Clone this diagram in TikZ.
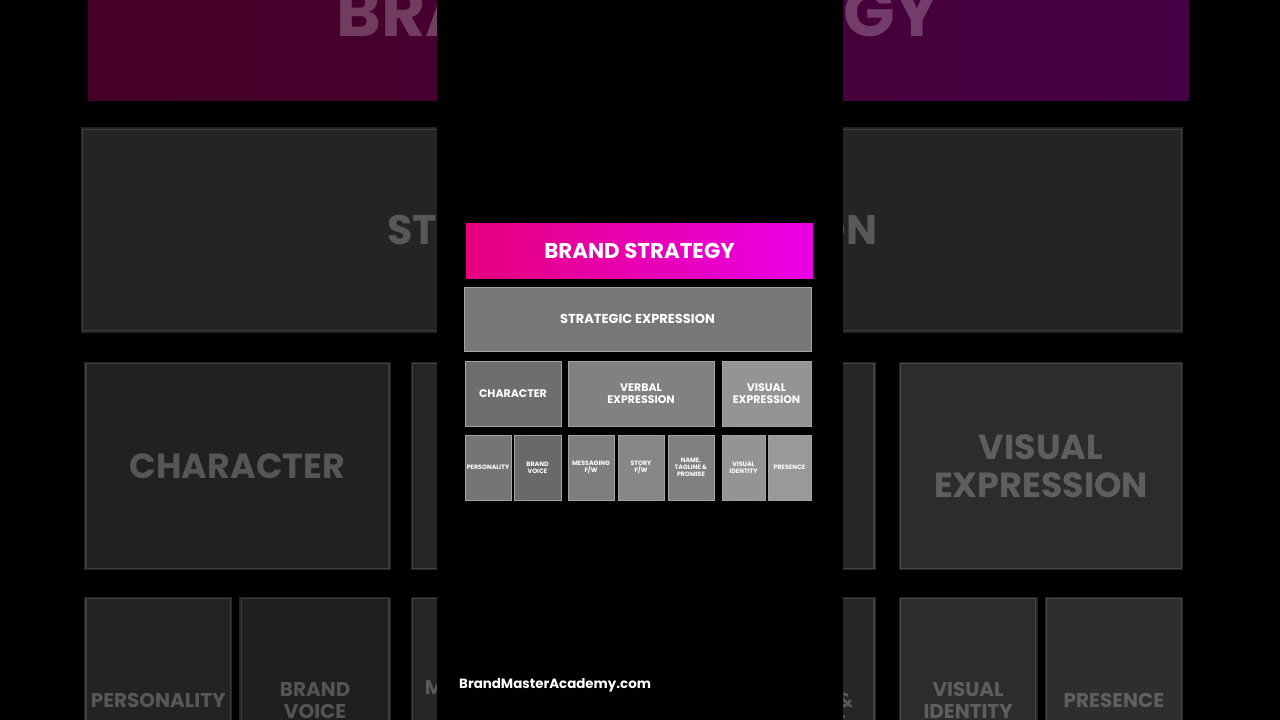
\documentclass[tikz,border=0pt]{standalone}
\usepackage{fontspec}
\setmainfont{Poppins}
\definecolor{brandpink}{HTML}{E6007E}
\definecolor{brandviolet}{HTML}{EA00E6}
\definecolor{edgegray}{HTML}{A3A4A4}
\definecolor{stratgray}{HTML}{767878}
\definecolor{chargray}{HTML}{6D6E6E}
\definecolor{verbalgray}{HTML}{808181}
\definecolor{visualgray}{HTML}{939494}
\definecolor{persgray}{HTML}{747575}
\definecolor{voicegray}{HTML}{686969}
\definecolor{msggray}{HTML}{7D7E7E}
\definecolor{storygray}{HTML}{868787}
\definecolor{namegray}{HTML}{7E7F7F}
\definecolor{identgray}{HTML}{939494}
\definecolor{presgray}{HTML}{989999}
\tikzset{
  edgewidth/.style={line width=0.8pt},
  block/.style={draw=edgegray, edgewidth, inner sep=0pt, outer sep=0pt, text=white, align=center},
  toprow/.style={block, font=\fontsize{13}{15}\selectfont\bfseries},
  midrow/.style={block, minimum height=65pt, font=\fontsize{11}{12}\selectfont\bfseries},
  lowrow/.style={block, minimum height=65pt, font=\fontsize{6.3}{7}\selectfont\bfseries},
  brandbar/.style={inner sep=0pt, left color=brandpink, right color=brandviolet, text=white, font=\fontsize{21.4}{24}\selectfont\bfseries}
}
% the whole chart, names prefixed by #1
\newcommand\chart[1]{%
  \node[brandbar, minimum width=347pt, minimum height=55pt] (#1brand) at (639.5,250.5) {BRAND STRATEGY};
  \node[toprow, fill=stratgray, minimum width=347pt, minimum height=64pt] (#1strat) at (637.5,319) {\raisebox{-2pt}{STRATEGIC EXPRESSION}};
  \node[midrow, fill=chargray, minimum width=96pt] (#1character) at (513,393.5) {CHARACTER};
  \node[midrow, fill=verbalgray, minimum width=146pt] (#1verbal) at (641,393.5) {VERBAL\\EXPRESSION};
  \node[midrow, fill=visualgray, minimum width=89pt] (#1visual) at (766.5,393.5) {VISUAL\\EXPRESSION};
  \node[lowrow, fill=persgray, minimum width=46pt] (#1personality) at (488,467.5) {PERSONALITY};
  \node[lowrow, fill=voicegray, minimum width=47pt] (#1voice) at (537.5,467.5) {BRAND\\VOICE};
  \node[lowrow, fill=msggray, minimum width=46pt] (#1messaging) at (591,467.5) {MESSAGING\\F/W};
  \node[lowrow, fill=storygray, minimum width=46pt] (#1story) at (641,467.5) {STORY\\F/W};
  \node[lowrow, fill=namegray, minimum width=46pt] (#1tagline) at (691,467.5) {NAME,\\TAGLINE \&\\PROMISE};
  \node[lowrow, fill=identgray, minimum width=43pt] (#1identity) at (743.5,467.5) {VISUAL\\IDENTITY};
  \node[lowrow, fill=presgray, minimum width=43pt] (#1presence) at (789.5,467.5) {PRESENCE};
}
\begin{document}
\begin{tikzpicture}[x=1pt,y=-1pt]
\useasboundingbox[fill=black] (0,0) rectangle (1280,720);
% dimmed, enlarged copy behind
\begin{scope}
\clip (0,0) rectangle (1280,720);
\begin{scope}[scale around={3.17:(640,360)}, transform shape, fill opacity=0.3, draw opacity=0.22, text opacity=0.24, edgewidth/.style={line width=2.5pt}]
\chart{bg}
\end{scope}
\end{scope}
\fill[black] (437,0) rectangle (843,720);
\chart{}
\node[anchor=west, text=white, inner sep=0pt, font=\fontsize{13.4}{16}\selectfont\bfseries] (site) at (459,685) {BrandMasterAcademy.com};
\end{tikzpicture}
\end{document}
